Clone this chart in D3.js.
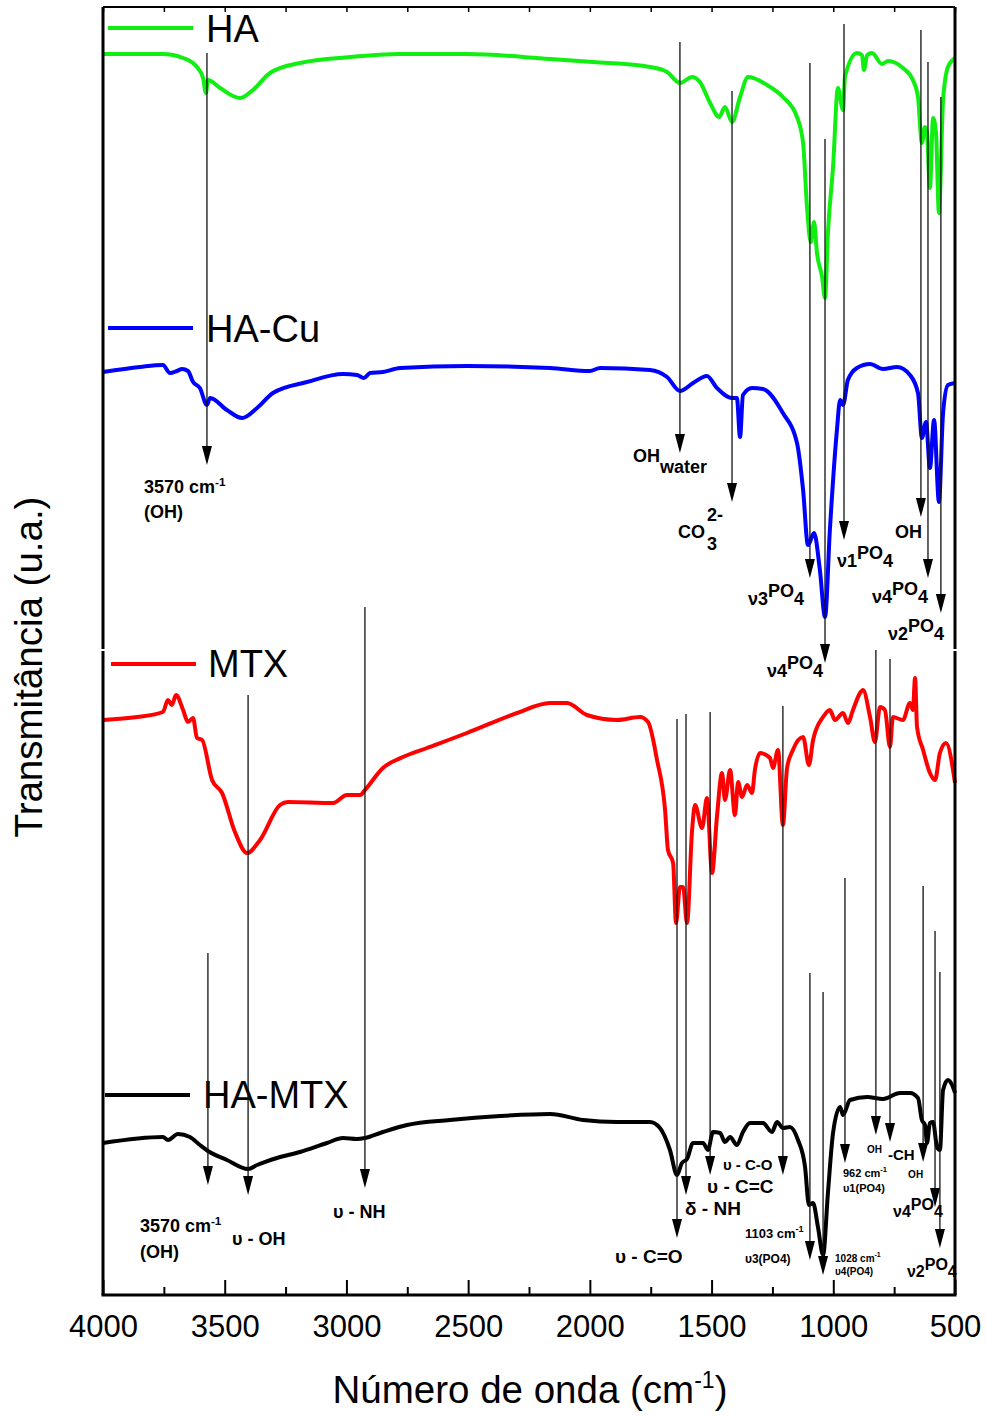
<!DOCTYPE html>
<html>
<head>
<meta charset="utf-8">
<script src="https://cdn.jsdelivr.net/npm/d3@7"></script>
<style>
  body { margin: 0; background: #fff; }
  text { font-family: 'Liberation Sans', Arial, sans-serif; }
</style>
</head>
<body>
<div id="chart"></div>
<script>
// spectra: [wavenumber (cm-1), transmittance (u.a., stacked)]
var haData = [
  [4000, 124.1], [3754, 124.1], [3671, 123.7], [3614, 122.8], [3589, 121.7], [3577, 120.2],
  [3569, 121.5], [3519, 120.7], [3437, 119.7], [3384, 120.5], [3314, 122.2], [3191, 123.2],
  [2985, 123.8], [2780, 124.1], [2505, 124.1], [2164, 123.6], [1987, 123.3], [1753, 122.8],
  [1683, 122.3], [1630, 121.2], [1580, 121.8], [1548, 121.3], [1506, 119.2], [1469, 117.8],
  [1445, 118.8], [1416, 117.3], [1383, 119.8], [1350, 121.8], [1272, 121.0], [1207, 119.8],
  [1149, 117.8], [1124, 115.2], [1108, 108.8], [1092, 105.3], [1079, 107.3], [1067, 104.2],
  [1046, 101.8], [1034, 99.7], [1022, 106.2], [1001, 112.8], [981, 120.7], [960, 118.5],
  [952, 121.8], [903, 124.2], [882, 124.0], [874, 122.5], [861, 124.0], [841, 124.2],
  [800, 123.1], [775, 123.4], [714, 122.7], [673, 121.5], [652, 119.8], [636, 115.2],
  [623, 116.8], [615, 116.2], [603, 110.7], [590, 117.7], [578, 116.2], [566, 108.2],
  [549, 119.5], [529, 122.8], [500, 123.7]
]

var haCuData = [
  [4000, 92.3], [3848, 92.8], [3754, 93.0], [3725, 92.2], [3696, 92.4], [3675, 92.6],
  [3651, 92.4], [3630, 91.3], [3602, 90.7], [3573, 89.0], [3560, 89.7], [3491, 88.5],
  [3429, 87.7], [3367, 88.7], [3302, 90.2], [3162, 91.3], [3014, 92.1], [2957, 92.0],
  [2928, 91.7], [2903, 92.2], [2850, 92.3], [2780, 92.7], [2505, 92.9], [2164, 92.7],
  [2000, 92.4], [1958, 92.7], [1753, 92.5], [1683, 91.8], [1630, 90.4], [1576, 91.2],
  [1519, 91.9], [1478, 90.7], [1416, 89.7], [1396, 89.7], [1383, 85.8], [1371, 90.0],
  [1334, 90.7], [1289, 90.6], [1207, 88.2], [1149, 85.2], [1124, 80.5], [1104, 75.0],
  [1079, 76.2], [1055, 72.5], [1034, 67.8], [1014, 76.5], [985, 86.5], [972, 89.5],
  [960, 89.0], [940, 91.5], [903, 92.7], [849, 93.1], [796, 92.6], [738, 92.8],
  [685, 92.0], [652, 90.2], [636, 85.7], [619, 87.3], [603, 82.7], [586, 87.5],
  [566, 79.3], [549, 88.2], [529, 91.0], [500, 91.2]
]

var mtxData = [
  [4000, 57.5], [3860, 57.8], [3754, 58.3], [3733, 59.5], [3717, 59.0], [3700, 60.0],
  [3671, 58.5], [3651, 57.3], [3630, 57.7], [3614, 55.7], [3593, 55.5], [3552, 51.5],
  [3511, 50.2], [3458, 46.3], [3408, 44.2], [3355, 45.5], [3273, 49.0], [3240, 49.3],
  [3055, 49.2], [2998, 50.0], [2944, 50.0], [2924, 50.5], [2850, 52.7], [2768, 53.8],
  [2669, 54.7], [2505, 56.2], [2299, 58.2], [2164, 59.2], [2094, 59.2], [2012, 58.0],
  [1889, 57.5], [1794, 57.8], [1761, 57.3], [1724, 53.5], [1691, 48.5], [1679, 44.5],
  [1658, 43.2], [1646, 37.2], [1630, 40.8], [1617, 40.8], [1601, 37.2], [1580, 46.5],
  [1568, 49.0], [1539, 46.7], [1519, 49.7], [1498, 42.2], [1478, 47.8], [1457, 52.2],
  [1445, 49.5], [1424, 52.5], [1404, 48.0], [1391, 51.3], [1375, 49.8], [1354, 51.0],
  [1334, 50.2], [1322, 52.5], [1301, 54.2], [1260, 53.7], [1248, 52.7], [1227, 54.5],
  [1207, 47.0], [1190, 52.7], [1166, 54.5], [1124, 55.8], [1100, 53.0], [1083, 55.5],
  [1042, 57.8], [1014, 58.5], [993, 57.5], [960, 58.2], [940, 57.2], [919, 58.5],
  [890, 60.2], [878, 60.5], [849, 57.8], [829, 55.3], [808, 58.8], [788, 58.5],
  [767, 54.8], [755, 57.8], [714, 57.5], [685, 59.2], [673, 58.5], [664, 61.7],
  [656, 56.8], [631, 54.5], [603, 52.2], [582, 51.5], [562, 54.2], [537, 55.2], [500, 51.2]
]

var haMtxData = [
  [4000, 15.2], [3754, 15.8], [3733, 15.5], [3692, 16.1], [3643, 15.8], [3602, 15.0],
  [3569, 14.4], [3491, 13.5], [3404, 12.6], [3367, 13.0], [3285, 13.7], [3191, 14.3],
  [3080, 15.2], [3014, 15.7], [2957, 15.6], [2924, 15.7], [2850, 16.3], [2751, 17.0],
  [2575, 17.5], [2369, 17.9], [2164, 18.1], [2028, 17.5], [1889, 17.3], [1753, 17.3],
  [1712, 16.7], [1671, 14.5], [1642, 12.0], [1622, 13.2], [1601, 13.6], [1576, 15.2],
  [1535, 15.2], [1515, 14.5], [1494, 16.3], [1465, 16.2], [1445, 15.3], [1424, 15.8],
  [1396, 15.0], [1371, 16.3], [1342, 17.2], [1289, 17.2], [1252, 16.3], [1231, 17.3],
  [1207, 16.7], [1178, 16.8], [1145, 15.5], [1116, 12.8], [1100, 9.0], [1083, 9.2],
  [1063, 6.8], [1042, 4.0], [1022, 10.2], [1001, 16.2], [972, 18.8], [960, 18.0],
  [931, 19.5], [861, 19.8], [796, 19.6], [726, 20.2], [685, 20.2], [652, 19.7],
  [636, 17.5], [623, 17.0], [615, 15.2], [603, 17.2], [590, 17.3], [574, 14.8],
  [562, 14.5], [549, 20.5], [529, 21.5], [512, 21.0], [500, 20.2]
]

var seriesNames = ['HA', 'HA-Cu', 'MTX', 'HA-MTX']
var seriesColors = ['#11ee11', '#0000ff', '#ff0000', '#000000']
var xTicks = [4000, 3500, 3000, 2500, 2000, 1500, 1000, 500]

// band assignments: wavenumber, arrow start and tip (u.a.), label pieces
var peaks = [
  { wn: 3573, from: 124.2, to: 83.0, labels: [
    { dx: -63, dy: 28, size: 18, parts: [['3570 cm'], ['-1', 7, 0.65]] },
    { dx: -63, dy: 53, size: 18, parts: [['(OH)']] }] },
  { wn: 1630, from: 125.3, to: 84.2, labels: [
    { dx: -47, dy: 9, size: 18, parts: [['OH'], ['water', -11]] }] },
  { wn: 1416, from: 120.4, to: 79.3, labels: [
    { dx: -54, dy: 36, size: 18, parts: [['CO']] },
    { dx: -25, dy: 19, size: 18, parts: [['2-']] },
    { dx: -25, dy: 48, size: 18, parts: [['3']] }] },
  { wn: 1096, from: 123.2, to: 71.7, labels: [
    { dx: -62, dy: 27, size: 18, parts: [['ν3'], ['PO', 8], ['4', 0]] }] },
  { wn: 1034, from: 115.6, to: 63.2, labels: [
    { dx: -58, dy: 14, size: 18, parts: [['ν4'], ['PO', 8], ['4', 0]] }] },
  { wn: 956, from: 127.1, to: 75.5, labels: [
    { dx: -7, dy: 27, size: 18, parts: [['ν1'], ['PO', 8], ['4', 0]] }] },
  { wn: 640, from: 126.5, to: 77.8, labels: [
    { dx: -26, dy: 21, size: 18, parts: [['OH']] }] },
  { wn: 611, from: 123.3, to: 71.7, labels: [
    { dx: -56, dy: 25, size: 18, parts: [['ν4'], ['PO', 8], ['4', 0]] }] },
  { wn: 558, from: 119.8, to: 68.2, labels: [
    { dx: -53, dy: 27, size: 18, parts: [['ν2'], ['PO', 8], ['4', 0]] }] },

  { wn: 3569, from: 34.2, to: 11.0, labels: [
    { dx: -68, dy: 47, size: 18, parts: [['3570 cm'], ['-1', 7, 0.65]] },
    { dx: -68, dy: 73, size: 18, parts: [['(OH)']] }] },
  { wn: 3404, from: 60.0, to: 10.0, labels: [
    { dx: -16, dy: 50, size: 18, parts: [['υ - OH']] }] },
  { wn: 2924, from: 68.8, to: 10.7, labels: [
    { dx: -32, dy: 30, size: 18, parts: [['υ - NH']] }] },
  { wn: 1642, from: 57.6, to: 5.7, labels: [
    { dx: -62, dy: 25, size: 19, parts: [['υ - C=O']] }] },
  { wn: 1605, from: 58.1, to: 10.0, labels: [
    { dx: -1, dy: 20, size: 19, parts: [['δ - NH']] }] },
  { wn: 1506, from: 58.3, to: 12.0, labels: [
    { dx: -3, dy: 18, size: 19, parts: [['υ - C=C']] }] },
  { wn: 1207, from: 58.9, to: 12.0, labels: [
    { dx: -60, dy: -5, size: 15, parts: [['υ - C-O']] }] },
  { wn: 1096, from: 32.2, to: 3.5, labels: [
    { dx: -65, dy: -22, size: 13, parts: [['1103 cm'], ['-1', 6, 0.7]] },
    { dx: -65, dy: 3, size: 12, parts: [['υ3(PO4)']] }] },
  { wn: 1042, from: 30.3, to: 2.0, labels: [
    { dx: 12, dy: -13, size: 10, parts: [['1028 cm'], ['-1', 5, 0.7]] },
    { dx: 12, dy: 0, size: 10, parts: [['υ4(PO4)']] }] },
  { wn: 952, from: 41.7, to: 13.2, labels: [
    { dx: -2, dy: 14, size: 11, parts: [['962 cm'], ['-1', 5, 0.7]] },
    { dx: -2, dy: 29, size: 11, parts: [['υ1(PO4)']] }] },
  { wn: 825, from: 64.5, to: 16.0, labels: [
    { dx: -9, dy: 18, size: 10, parts: [['OH']] }] },
  { wn: 767, from: 63.6, to: 15.3, labels: [
    { dx: -2, dy: 18, size: 15, parts: [['-CH']] }] },
  { wn: 631, from: 40.9, to: 13.3, labels: [
    { dx: -15, dy: 16, size: 10, parts: [['OH']] }] },
  { wn: 582, from: 36.4, to: 8.8, labels: [
    { dx: -42, dy: 10, size: 16, parts: [['ν4'], ['PO', 7], ['4', 0]] }] },
  { wn: 562, from: 32.3, to: 4.7, labels: [
    { dx: -33, dy: 29, size: 16, parts: [['ν2'], ['PO', 7], ['4', 0]] }] }
]

var W = 987
var H = 1416
var plot = { left: 103, right: 955, top: 7, bottom: 1295 }

var svg = d3.select('#chart')
  .append('svg')
  .attr('width', W)
  .attr('height', H)

svg.append('rect').attr('width', W).attr('height', H).attr('fill', '#fff')

var x = d3.scaleLinear()
  .domain([4000, 500])
  .range([plot.left, plot.right])

var y = d3.scaleLinear()
  .domain([0, 129])
  .range([plot.bottom, plot.top - 2])

var allTicks = d3.range(4000, 499, -250)
var minorTicks = allTicks.filter(function (d) { return d % 500 !== 0 })

// bottom axis, ticks pointing in
var xAxis = svg.append('g')
  .attr('transform', 'translate(0,' + plot.bottom + ')')
  .call(d3.axisBottom(x).tickValues(xTicks).tickSize(-15).tickPadding(20).tickFormat(d3.format('d')))
xAxis.select('.domain').remove()
xAxis.selectAll('.tick line').attr('stroke', '#000').attr('stroke-width', 2)
xAxis.selectAll('.tick text')
  .attr('font-size', 31)
  .attr('fill', '#000')
  .style('font-family', "'Liberation Sans', Arial, sans-serif")

var xMinor = svg.append('g')
  .attr('transform', 'translate(0,' + plot.bottom + ')')
  .call(d3.axisBottom(x).tickValues(minorTicks).tickSize(-8).tickFormat(''))
xMinor.select('.domain').remove()
xMinor.selectAll('.tick line').attr('stroke', '#000').attr('stroke-width', 2)

var xTop = svg.append('g')
  .attr('transform', 'translate(0,' + plot.top + ')')
  .call(d3.axisTop(x).tickValues(allTicks).tickSize(-5).tickFormat(''))
xTop.select('.domain').remove()
xTop.selectAll('.tick line').attr('stroke', '#000').attr('stroke-width', 1.5)

// spectra
var line = d3.line()
  .x(function (d) { return x(d[0]) })
  .y(function (d) { return y(d[1]) })
  .curve(d3.curveMonotoneX)

var allSeries = [haData, haCuData, mtxData, haMtxData]
allSeries.forEach(function (s, i) {
  svg.append('path')
    .datum(s)
    .attr('d', line)
    .attr('fill', 'none')
    .attr('stroke', seriesColors[i])
    .attr('stroke-width', 4)
    .attr('stroke-linejoin', 'round')
})

// legend entries sit next to each curve
var legendPos = [
  { x: 108, y: 28, tx: 206, ty: 42 },
  { x: 108, y: 328, tx: 206, ty: 342 },
  { x: 111, y: 664, tx: 208, ty: 677 },
  { x: 105, y: 1095, tx: 203, ty: 1108 }
]
seriesNames.forEach(function (name, i) {
  var p = legendPos[i]
  svg.append('line')
    .attr('x1', p.x).attr('x2', p.x + 85)
    .attr('y1', p.y).attr('y2', p.y)
    .attr('stroke', seriesColors[i])
    .attr('stroke-width', 4)
  svg.append('text')
    .attr('x', p.tx).attr('y', p.ty)
    .attr('font-size', 38)
    .attr('fill', '#000')
    .text(name)
})

// arrows and band labels
function drawLabel (g, px, py, size, parts) {
  var t = g.append('text')
    .attr('x', px).attr('y', py)
    .attr('font-size', size)
    .attr('font-weight', 'bold')
    .attr('fill', '#000')
  var cur = 0
  parts.forEach(function (p) {
    var rise = p[1] || 0
    t.append('tspan')
      .attr('dy', cur - rise)
      .attr('font-size', (p[2] || 1) * size)
      .text(p[0])
    cur = rise
  })
}

var ann = svg.append('g')
peaks.forEach(function (p) {
  var px = x(p.wn)
  var y0 = y(p.from)
  var y1 = y(p.to)
  ann.append('line')
    .attr('x1', px).attr('x2', px)
    .attr('y1', y0).attr('y2', y1 - 16)
    .attr('stroke', '#111')
    .attr('stroke-width', 1.3)
  ann.append('path')
    .attr('d', 'M' + (px - 5) + ',' + (y1 - 19) + 'L' + (px + 5) + ',' + (y1 - 19) + 'L' + px + ',' + y1 + 'Z')
    .attr('fill', '#000')
  p.labels.forEach(function (l) {
    drawLabel(ann, px + l.dx, y1 + l.dy, l.size, l.parts)
  })
})

// frame (two stacked panels)
var frame = svg.append('g').attr('stroke', '#000').attr('fill', 'none')
frame.append('line').attr('x1', plot.left).attr('x2', plot.right).attr('y1', plot.top).attr('y2', plot.top).attr('stroke-width', 2)
frame.append('line').attr('x1', plot.left - 1.5).attr('x2', plot.right + 1.5).attr('y1', plot.bottom).attr('y2', plot.bottom).attr('stroke-width', 3)
frame.append('line').attr('x1', plot.left).attr('x2', plot.left).attr('y1', plot.top).attr('y2', 649).attr('stroke-width', 3)
frame.append('line').attr('x1', plot.left).attr('x2', plot.left).attr('y1', 651).attr('y2', plot.bottom).attr('stroke-width', 3)
frame.append('line').attr('x1', plot.right).attr('x2', plot.right).attr('y1', plot.top).attr('y2', 649).attr('stroke-width', 3)
frame.append('line').attr('x1', plot.right).attr('x2', plot.right).attr('y1', 651).attr('y2', plot.bottom).attr('stroke-width', 3)

// axis titles
var xt = svg.append('text')
  .attr('x', 530).attr('y', 1403)
  .attr('text-anchor', 'middle')
  .attr('font-size', 38.5)
  .attr('fill', '#000')
xt.append('tspan').text('Número de onda (cm')
xt.append('tspan').attr('dy', -15).attr('font-size', 23).text('-1')
xt.append('tspan').attr('dy', 15).text(')')

svg.append('text')
  .attr('transform', 'translate(42,667) rotate(-90)')
  .attr('text-anchor', 'middle')
  .attr('font-size', 38.5)
  .attr('fill', '#000')
  .text('Transmitância (u.a.)')
</script>
</body>
</html>
